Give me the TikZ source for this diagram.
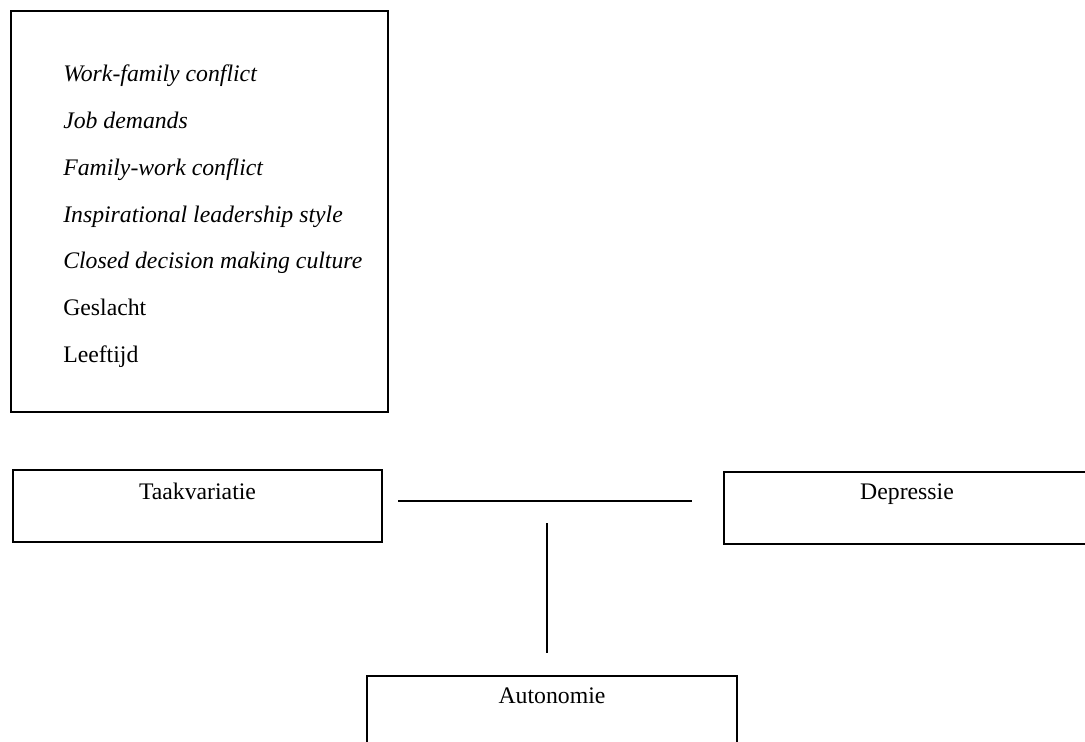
\documentclass[tikz,border=0pt]{standalone}
\usepackage{fontspec}
\setmainfont{Liberation Serif}
\usetikzlibrary{positioning}
\tikzset{
  box/.style={draw, line width=1.5pt, inner sep=0pt, anchor=north west},
  txt/.style={anchor=base, inner sep=0pt, font=\fontsize{17.8}{20}\selectfont},
  item/.style={anchor=base west, inner sep=0pt, font=\fontsize{17.8}{20}\selectfont},
  link/.style={line width=1.2pt}
}
\begin{document}
\begin{tikzpicture}[x=0.75pt,y=-0.75pt]
\clip (0,0) rectangle (1085,742);
% box with the control variables
\node[box, minimum width=282.75pt, minimum height=300.75pt] (factors) at (10,10) {};
\foreach \lbl [count=\i] in {Work-family conflict, Job demands, Family-work conflict, Inspirational leadership style, Closed decision making culture}
  \node[item, font=\fontsize{17.8}{20}\selectfont\itshape] (item\i) at (63,35.3+46.7*\i) {\lbl};
\node[item] (item6) at (63,315.5) {Geslacht};
\node[item] (item7) at (63,362.2) {Leeftijd};
% model boxes
\node[box, minimum width=276.75pt, minimum height=54pt] (taak) at (12,469) {};
\node[txt] (taaktxt) at ([yshift=-22.5pt]taak.north) {Taakvariatie};
\node[box, minimum width=274.5pt, minimum height=54pt] (dep) at (723,471) {};
\node[txt] (deptxt) at ([yshift=-21pt]dep.north) {Depressie};
\node[box, minimum width=277.5pt, minimum height=54pt] (auto) at (366,675) {};
\node[txt] (autotxt) at ([yshift=-21pt]auto.north) {Autonomie};
% lines
\coordinate (h1) at (398,501);
\coordinate (h2) at (692,501);
\coordinate (v1) at (547,523);
\coordinate (v2) at (547,653);
\draw[link] (h1) -- (h2);
\draw[link] (v1) -- (v2);
\end{tikzpicture}
\end{document}
